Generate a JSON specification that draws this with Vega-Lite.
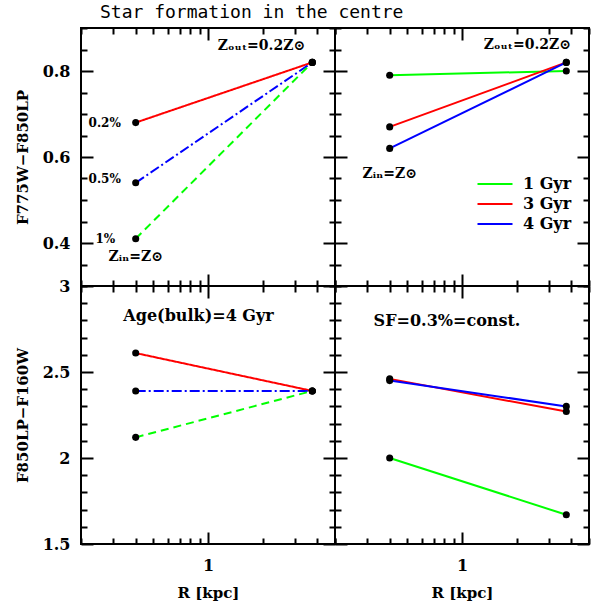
{
  "$schema": "https://vega.github.io/schema/vega-lite/v6.json",
  "padding": {"left": 14, "top": 4, "right": 6, "bottom": 4},
  "background": "white",
  "title": {"text": "Star formation in the centre", "anchor": "start", "frame": "group", "dx": 19, "offset": -3, "font": "DejaVu Sans Mono", "fontSize": 18, "fontWeight": "normal", "color": "black"},
  "datasets": {
    "tl": [
      {"r": 0.4, "c": 0.68, "sf": "0.2%"}, {"r": 3.75, "c": 0.82, "sf": "0.2%"},
      {"r": 0.4, "c": 0.54, "sf": "0.5%"}, {"r": 3.75, "c": 0.82, "sf": "0.5%"},
      {"r": 0.4, "c": 0.41, "sf": "1%"}, {"r": 3.75, "c": 0.82, "sf": "1%"}
    ],
    "tr": [
      {"r": 0.4, "c": 0.79, "age": "1 Gyr"}, {"r": 3.75, "c": 0.80, "age": "1 Gyr"},
      {"r": 0.4, "c": 0.67, "age": "3 Gyr"}, {"r": 3.75, "c": 0.82, "age": "3 Gyr"},
      {"r": 0.4, "c": 0.62, "age": "4 Gyr"}, {"r": 3.75, "c": 0.82, "age": "4 Gyr"}
    ],
    "bl": [
      {"r": 0.4, "c": 2.61, "sf": "0.2%"}, {"r": 3.75, "c": 2.39, "sf": "0.2%"},
      {"r": 0.4, "c": 2.39, "sf": "0.5%"}, {"r": 3.75, "c": 2.39, "sf": "0.5%"},
      {"r": 0.4, "c": 2.12, "sf": "1%"}, {"r": 3.75, "c": 2.39, "sf": "1%"}
    ],
    "br": [
      {"r": 0.4, "c": 2.00, "age": "1 Gyr"}, {"r": 3.75, "c": 1.67, "age": "1 Gyr"},
      {"r": 0.4, "c": 2.46, "age": "3 Gyr"}, {"r": 3.75, "c": 2.27, "age": "3 Gyr"},
      {"r": 0.4, "c": 2.45, "age": "4 Gyr"}, {"r": 3.75, "c": 2.30, "age": "4 Gyr"}
    ],
    "tl_big": [{"r": 1.97, "c": 0.857, "t": "Zₒᵤₜ=0.2Z⊙"}, {"r": 0.40, "c": 0.367, "t": "Zᵢₙ=Z⊙"}],
    "tl_small": [{"r": 0.27, "c": 0.678, "t": "0.2%"}, {"r": 0.27, "c": 0.548, "t": "0.5%"}, {"r": 0.272, "c": 0.41, "t": "1%"}],
    "tr_big": [{"r": 2.29, "c": 0.86, "t": "Zₒᵤₜ=0.2Z⊙"}, {"r": 0.40, "c": 0.561, "t": "Zᵢₙ=Z⊙"}],
    "bl_big": [{"r": 0.887, "c": 2.828, "t": "Age(bulk)=4 Gyr"}],
    "br_big": [{"r": 0.827, "c": 2.796, "t": "SF=0.3%=const."}]
  },
  "columns": 2,
  "spacing": 0,
  "bounds": "flush",
  "concat": [
    {
      "width": 254, "height": 258,
      "layer": [
        {"data": {"name": "tl"}, "mark": {"type": "line", "strokeWidth": 2},
         "encoding": {
           "x": {"field": "r", "type": "quantitative", "scale": {"type": "log", "domain": [0.2, 5], "nice": false},
                 "axis": {"orient": "bottom", "values": [0.2,0.3,0.4,0.5,0.6,0.7,0.8,0.9,1,2,3,4,5], "tickSize": {"condition": {"test": "datum.value == 1", "value": -12}, "value": -6}, "labels": false, "title": null}},
           "y": {"field": "c", "type": "quantitative", "scale": {"domain": [0.3, 0.9], "nice": false, "zero": false},
                 "axis": {"orient": "left", "values": [0.3,0.35,0.4,0.45,0.5,0.55,0.6,0.65,0.7,0.75,0.8,0.85,0.9], "tickSize": {"condition": {"test": "datum.value == 0.4 || datum.value == 0.6 || datum.value == 0.8", "value": -12}, "value": -6}, "labelExpr": "(datum.value == 0.4 || datum.value == 0.6 || datum.value == 0.8) ? '' + datum.value : ''", "labelPadding": 23, "title": "F775W−F850LP", "titlePadding": 12}},
           "color": {"field": "sf", "type": "nominal", "scale": {"domain": ["0.2%", "0.5%", "1%"], "range": ["#ff0000", "#0000ff", "#00ff00"]}, "legend": null},
           "strokeDash": {"field": "sf", "type": "nominal", "scale": {"domain": ["0.2%", "0.5%", "1%"], "range": [[1, 0], [10, 3, 2, 3], [8, 5]]}, "legend": null}
         }},
        {"data": {"name": "tl"}, "mark": {"type": "circle", "size": 50, "color": "black", "opacity": 1},
         "encoding": {
           "x": {"field": "r", "type": "quantitative", "scale": {"type": "log", "domain": [0.2, 5], "nice": false},
                 "axis": {"orient": "top", "values": [0.2,0.3,0.4,0.5,0.6,0.7,0.8,0.9,1,2,3,4,5], "tickSize": {"condition": {"test": "datum.value == 1", "value": -12}, "value": -6}, "labels": false, "title": null}},
           "y": {"field": "c", "type": "quantitative", "scale": {"domain": [0.3, 0.9], "nice": false, "zero": false},
                 "axis": {"orient": "right", "values": [0.3,0.35,0.4,0.45,0.5,0.55,0.6,0.65,0.7,0.75,0.8,0.85,0.9], "tickSize": {"condition": {"test": "datum.value == 0.4 || datum.value == 0.6 || datum.value == 0.8", "value": -12}, "value": -6}, "labels": false, "title": null}}
         }},
        {"data": {"name": "tl_big"}, "mark": {"type": "text", "font": "DejaVu Serif", "fontSize": 14, "fontWeight": "bold", "color": "black", "align": "center", "baseline": "middle"},
         "encoding": {
           "x": {"field": "r", "type": "quantitative", "scale": {"type": "log", "domain": [0.2, 5], "nice": false}, "axis": null},
           "y": {"field": "c", "type": "quantitative", "scale": {"domain": [0.3, 0.9], "nice": false, "zero": false}, "axis": null},
           "text": {"field": "t"}
         }},
        {"data": {"name": "tl_small"}, "mark": {"type": "text", "font": "DejaVu Serif", "fontSize": 12, "fontWeight": "bold", "color": "black", "align": "center", "baseline": "middle"},
         "encoding": {
           "x": {"field": "r", "type": "quantitative", "scale": {"type": "log", "domain": [0.2, 5], "nice": false}, "axis": null},
           "y": {"field": "c", "type": "quantitative", "scale": {"domain": [0.3, 0.9], "nice": false, "zero": false}, "axis": null},
           "text": {"field": "t"}
         }}
      ],
      "resolve": {"axis": {"x": "independent", "y": "independent"}}
    },
    {
      "width": 254, "height": 258,
      "layer": [
        {"data": {"name": "tr"}, "mark": {"type": "line", "strokeWidth": 2},
         "encoding": {
           "x": {"field": "r", "type": "quantitative", "scale": {"type": "log", "domain": [0.2, 5], "nice": false},
                 "axis": {"orient": "bottom", "values": [0.2,0.3,0.4,0.5,0.6,0.7,0.8,0.9,1,2,3,4,5], "tickSize": {"condition": {"test": "datum.value == 1", "value": -12}, "value": -6}, "labels": false, "title": null}},
           "y": {"field": "c", "type": "quantitative", "scale": {"domain": [0.3, 0.9], "nice": false, "zero": false},
                 "axis": {"orient": "left", "values": [0.3,0.35,0.4,0.45,0.5,0.55,0.6,0.65,0.7,0.75,0.8,0.85,0.9], "tickSize": {"condition": {"test": "datum.value == 0.4 || datum.value == 0.6 || datum.value == 0.8", "value": -12}, "value": -6}, "labels": false, "title": null}},
           "color": {"field": "age", "type": "nominal", "scale": {"domain": ["1 Gyr", "3 Gyr", "4 Gyr"], "range": ["#00ff00", "#ff0000", "#0000ff"]},
                     "legend": {"orient": "none", "legendX": 152, "legendY": 148, "title": null, "symbolType": "M-3.5,0H3.5", "symbolSize": 100, "symbolStrokeWidth": 2, "labelFont": "DejaVu Serif", "labelFontSize": 16, "labelFontWeight": "bold", "labelColor": "black", "rowPadding": 4, "labelOffset": 20, "padding": 0}}
         }},
        {"data": {"name": "tr"}, "mark": {"type": "circle", "size": 50, "color": "black", "opacity": 1},
         "encoding": {
           "x": {"field": "r", "type": "quantitative", "scale": {"type": "log", "domain": [0.2, 5], "nice": false},
                 "axis": {"orient": "top", "values": [0.2,0.3,0.4,0.5,0.6,0.7,0.8,0.9,1,2,3,4,5], "tickSize": {"condition": {"test": "datum.value == 1", "value": -12}, "value": -6}, "labels": false, "title": null}},
           "y": {"field": "c", "type": "quantitative", "scale": {"domain": [0.3, 0.9], "nice": false, "zero": false},
                 "axis": {"orient": "right", "values": [0.3,0.35,0.4,0.45,0.5,0.55,0.6,0.65,0.7,0.75,0.8,0.85,0.9], "tickSize": {"condition": {"test": "datum.value == 0.4 || datum.value == 0.6 || datum.value == 0.8", "value": -12}, "value": -6}, "labels": false, "title": null}}
         }},
        {"data": {"name": "tr_big"}, "mark": {"type": "text", "font": "DejaVu Serif", "fontSize": 14, "fontWeight": "bold", "color": "black", "align": "center", "baseline": "middle"},
         "encoding": {
           "x": {"field": "r", "type": "quantitative", "scale": {"type": "log", "domain": [0.2, 5], "nice": false}, "axis": null},
           "y": {"field": "c", "type": "quantitative", "scale": {"domain": [0.3, 0.9], "nice": false, "zero": false}, "axis": null},
           "text": {"field": "t"}
         }}
      ],
      "resolve": {"axis": {"x": "independent", "y": "independent"}}
    },
    {
      "width": 254, "height": 258,
      "layer": [
        {"data": {"name": "bl"}, "mark": {"type": "line", "strokeWidth": 2},
         "encoding": {
           "x": {"field": "r", "type": "quantitative", "scale": {"type": "log", "domain": [0.2, 5], "nice": false},
                 "axis": {"orient": "bottom", "values": [0.2,0.3,0.4,0.5,0.6,0.7,0.8,0.9,1,2,3,4,5], "tickSize": {"condition": {"test": "datum.value == 1", "value": -12}, "value": -6}, "labelExpr": "datum.value == 1 ? '1' : ''", "labelPadding": 25, "title": "R [kpc]", "titlePadding": 6}},
           "y": {"field": "c", "type": "quantitative", "scale": {"domain": [1.5, 3], "nice": false, "zero": false},
                 "axis": {"orient": "left", "values": [1.5,1.6,1.7,1.8,1.9,2,2.1,2.2,2.3,2.4,2.5,2.6,2.7,2.8,2.9,3], "tickSize": {"condition": {"test": "datum.value == 1.5 || datum.value == 2 || datum.value == 2.5 || datum.value == 3", "value": -12}, "value": -6}, "labelExpr": "(datum.value == 1.5 || datum.value == 2 || datum.value == 2.5 || datum.value == 3) ? '' + datum.value : ''", "labelPadding": 23, "title": "F850LP−F160W", "titlePadding": 12}},
           "color": {"field": "sf", "type": "nominal", "scale": {"domain": ["0.2%", "0.5%", "1%"], "range": ["#ff0000", "#0000ff", "#00ff00"]}, "legend": null},
           "strokeDash": {"field": "sf", "type": "nominal", "scale": {"domain": ["0.2%", "0.5%", "1%"], "range": [[1, 0], [10, 3, 2, 3], [8, 5]]}, "legend": null}
         }},
        {"data": {"name": "bl"}, "mark": {"type": "circle", "size": 50, "color": "black", "opacity": 1},
         "encoding": {
           "x": {"field": "r", "type": "quantitative", "scale": {"type": "log", "domain": [0.2, 5], "nice": false},
                 "axis": {"orient": "top", "values": [0.2,0.3,0.4,0.5,0.6,0.7,0.8,0.9,1,2,3,4,5], "tickSize": {"condition": {"test": "datum.value == 1", "value": -12}, "value": -6}, "labels": false, "title": null}},
           "y": {"field": "c", "type": "quantitative", "scale": {"domain": [1.5, 3], "nice": false, "zero": false},
                 "axis": {"orient": "right", "values": [1.5,1.6,1.7,1.8,1.9,2,2.1,2.2,2.3,2.4,2.5,2.6,2.7,2.8,2.9,3], "tickSize": {"condition": {"test": "datum.value == 1.5 || datum.value == 2 || datum.value == 2.5 || datum.value == 3", "value": -12}, "value": -6}, "labels": false, "title": null}}
         }},
        {"data": {"name": "bl_big"}, "mark": {"type": "text", "font": "DejaVu Serif", "fontSize": 16, "fontWeight": "bold", "color": "black", "align": "center", "baseline": "middle"},
         "encoding": {
           "x": {"field": "r", "type": "quantitative", "scale": {"type": "log", "domain": [0.2, 5], "nice": false}, "axis": null},
           "y": {"field": "c", "type": "quantitative", "scale": {"domain": [1.5, 3], "nice": false, "zero": false}, "axis": null},
           "text": {"field": "t"}
         }}
      ],
      "resolve": {"axis": {"x": "independent", "y": "independent"}}
    },
    {
      "width": 254, "height": 258,
      "layer": [
        {"data": {"name": "br"}, "mark": {"type": "line", "strokeWidth": 2},
         "encoding": {
           "x": {"field": "r", "type": "quantitative", "scale": {"type": "log", "domain": [0.2, 5], "nice": false},
                 "axis": {"orient": "bottom", "values": [0.2,0.3,0.4,0.5,0.6,0.7,0.8,0.9,1,2,3,4,5], "tickSize": {"condition": {"test": "datum.value == 1", "value": -12}, "value": -6}, "labelExpr": "datum.value == 1 ? '1' : ''", "labelPadding": 25, "title": "R [kpc]", "titlePadding": 6}},
           "y": {"field": "c", "type": "quantitative", "scale": {"domain": [1.5, 3], "nice": false, "zero": false},
                 "axis": {"orient": "left", "values": [1.5,1.6,1.7,1.8,1.9,2,2.1,2.2,2.3,2.4,2.5,2.6,2.7,2.8,2.9,3], "tickSize": {"condition": {"test": "datum.value == 1.5 || datum.value == 2 || datum.value == 2.5 || datum.value == 3", "value": -12}, "value": -6}, "labels": false, "title": null}},
           "color": {"field": "age", "type": "nominal", "scale": {"domain": ["1 Gyr", "3 Gyr", "4 Gyr"], "range": ["#00ff00", "#ff0000", "#0000ff"]}, "legend": null}
         }},
        {"data": {"name": "br"}, "mark": {"type": "circle", "size": 50, "color": "black", "opacity": 1},
         "encoding": {
           "x": {"field": "r", "type": "quantitative", "scale": {"type": "log", "domain": [0.2, 5], "nice": false},
                 "axis": {"orient": "top", "values": [0.2,0.3,0.4,0.5,0.6,0.7,0.8,0.9,1,2,3,4,5], "tickSize": {"condition": {"test": "datum.value == 1", "value": -12}, "value": -6}, "labels": false, "title": null}},
           "y": {"field": "c", "type": "quantitative", "scale": {"domain": [1.5, 3], "nice": false, "zero": false},
                 "axis": {"orient": "right", "values": [1.5,1.6,1.7,1.8,1.9,2,2.1,2.2,2.3,2.4,2.5,2.6,2.7,2.8,2.9,3], "tickSize": {"condition": {"test": "datum.value == 1.5 || datum.value == 2 || datum.value == 2.5 || datum.value == 3", "value": -12}, "value": -6}, "labels": false, "title": null}}
         }},
        {"data": {"name": "br_big"}, "mark": {"type": "text", "font": "DejaVu Serif", "fontSize": 16, "fontWeight": "bold", "color": "black", "align": "center", "baseline": "middle"},
         "encoding": {
           "x": {"field": "r", "type": "quantitative", "scale": {"type": "log", "domain": [0.2, 5], "nice": false}, "axis": null},
           "y": {"field": "c", "type": "quantitative", "scale": {"domain": [1.5, 3], "nice": false, "zero": false}, "axis": null},
           "text": {"field": "t"}
         }}
      ],
      "resolve": {"axis": {"x": "independent", "y": "independent"}}
    }
  ],
  "resolve": {"scale": {"color": "independent", "strokeDash": "independent"}, "legend": {"color": "independent", "strokeDash": "independent"}},
  "config": {
    "view": {"stroke": "black", "strokeWidth": 2},
    "axis": {"domain": false, "grid": false, "tickColor": "black", "tickWidth": 2, "labelFont": "DejaVu Serif", "labelFontSize": 16, "labelFontWeight": "bold", "labelColor": "black", "titleFont": "DejaVu Serif", "titleFontSize": 15, "titleFontWeight": "bold", "titleColor": "black", "labelOverlap": false, "labelFlush": false}
  }
}
